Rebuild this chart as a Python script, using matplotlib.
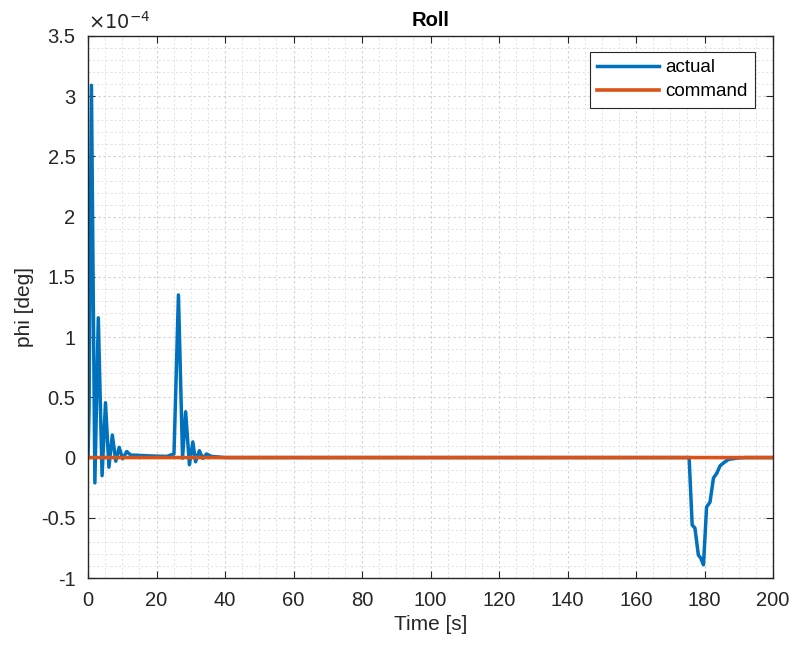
import numpy as np
import matplotlib.pyplot as plt
from matplotlib.ticker import MultipleLocator

plt.rcParams['font.family'] = ['Liberation Sans', 'DejaVu Sans']

# roll angle, values in units of 1e-4 deg
t_actual = [0, 0.3, 1.0, 2.0, 3.0, 4.1, 5.1, 6.1, 7.1, 8.1, 9.1, 10.1, 11.3, 12.5,
            14, 17, 20, 23, 25.1, 26.4, 27.6, 28.5, 29.6, 30.6, 31.4, 32.5, 33.5,
            34.6, 36, 38, 40, 60, 100, 140, 175.5, 176.4, 177.2, 178.2, 178.9,
            179.7, 180.6, 181.6, 182.6, 183.6, 184.5, 185.5, 187, 189.9, 192, 200]
phi_actual = [0, 0.4, 3.09, -0.21, 1.16, -0.15, 0.455, -0.08, 0.187, -0.03, 0.085,
              -0.01, 0.05, 0.02, 0.02, 0.015, 0.012, 0.01, 0.03, 1.35, -0.005, 0.38,
              -0.06, 0.13, -0.035, 0.057, -0.007, 0.03, 0.01, 0.005, 0, 0, 0, 0, 0,
              -0.56, -0.585, -0.81, -0.835, -0.89, -0.41, -0.37, -0.17, -0.13,
              -0.07, -0.045, -0.015, -0.003, 0, 0]
t_cmd = [0, 200]
phi_cmd = [0, 0]

blue = '#0072BD'
orange = '#D95319'
dark = '#262626'

fig = plt.figure(figsize=(7.98, 6.47), dpi=100)
ax = fig.add_axes([0.1103, 0.1066, 0.8584, 0.8378])

ax.plot(t_actual, phi_actual, color=blue, lw=2.5, label='actual', snap=False)
ax.plot(t_cmd, phi_cmd, color=orange, lw=2.6, label='command', snap=False)

ax.set_xlim(0, 200)
ax.set_ylim(-1, 3.5)
ax.xaxis.set_major_locator(MultipleLocator(20))
ax.xaxis.set_minor_locator(MultipleLocator(5))
ax.set_yticks(np.arange(-1, 3.51, 0.5))
ax.set_yticklabels([f'{v:g}' for v in np.arange(-1, 3.51, 0.5)])
ax.yaxis.set_minor_locator(MultipleLocator(0.1))

ax.grid(which='major', color='#cfcfcf', ls=(0, (2, 2.5)), lw=0.8)
ax.grid(which='minor', color='#e0e0e0', ls=(0, (2, 2.5)), lw=0.7)
ax.tick_params(which='both', direction='in', top=True, right=True, colors=dark,
               labelsize=14.5)
ax.tick_params(which='major', length=5, pad=9)
ax.tick_params(which='minor', length=0)
for s in ax.spines.values():
    s.set_color(dark)
    s.set_linewidth(1.0)

ax.set_xlabel('Time [s]', fontsize=15, color=dark, labelpad=4)
ax.set_ylabel('phi [deg]', fontsize=15, color=dark, labelpad=5)
ax.set_title('Roll', fontsize=14.5, fontweight='bold', color='black', pad=7)
ax.text(0.0, 1.006, r'$\times10^{-4}$', transform=ax.transAxes, fontsize=14,
        color=dark, va='bottom', ha='left')

leg = ax.legend(loc='upper right', fontsize=13.5, fancybox=False, framealpha=1,
                edgecolor=dark, borderpad=0.4, handlelength=3.3, labelspacing=0.35,
                handletextpad=0.35, bbox_to_anchor=(0.988, 0.988))
leg.get_frame().set_linewidth(0.8)

fig.savefig('out.png', dpi=100)
